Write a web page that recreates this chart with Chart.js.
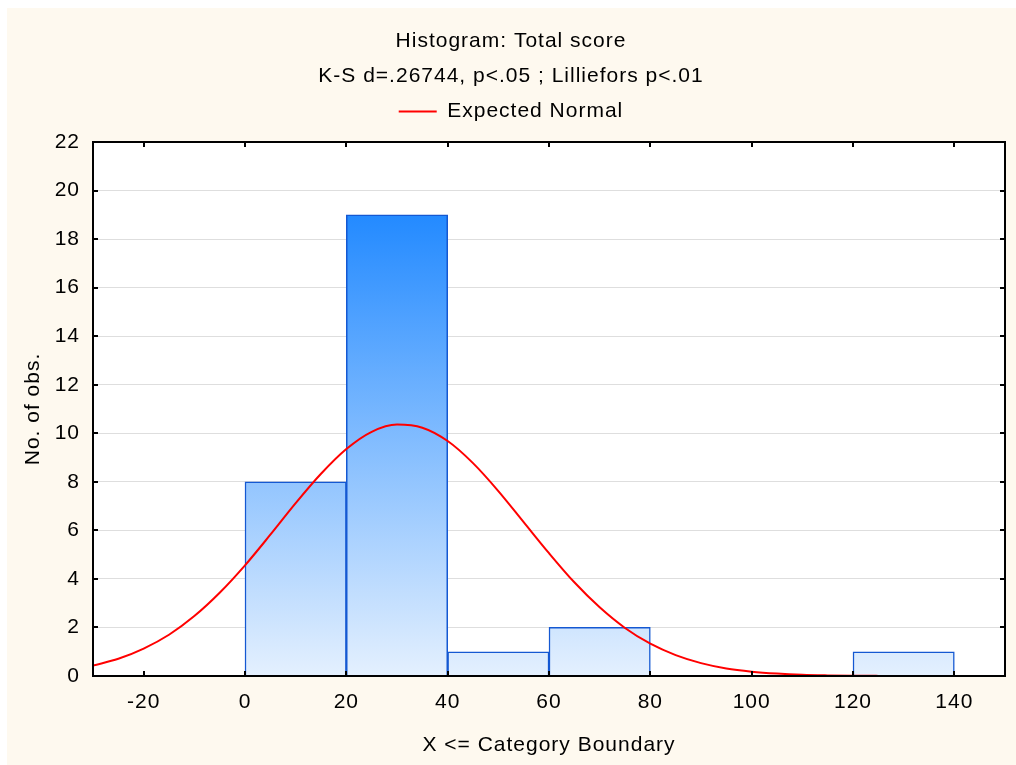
<!DOCTYPE html>
<html>
<head>
<meta charset="utf-8">
<title>Histogram: Total score</title>
<script src="https://cdn.jsdelivr.net/npm/chart.js@4.4.1/dist/chart.umd.min.js"></script>
<style>
  html, body { margin: 0; padding: 0; background: #fff; }
  #wrap { width: 1016px; height: 765px; }
</style>
</head>
<body>
<div id="wrap"><canvas id="hist" width="1016" height="765"></canvas></div>
<script>
// histogram bins (lower / upper boundary) and counts
const binLower = [-20, 0, 20, 40, 60, 80, 100, 120];
const binUpper = [0, 20, 40, 60, 80, 100, 120, 140];
const counts = [0, 8, 19, 1, 2, 0, 0, 1];

// expected normal curve, every 5 units
const curveX = [-30, -25, -20, -15, -10, -5, 0, 5, 10, 15, 20, 25, 30, 35, 40, 45, 50, 55, 60,
  65, 70, 75, 80, 85, 90, 95, 100, 105, 110, 115, 120, 125, 130, 135, 140, 145, 150];
const curveY = [0.43, 0.71, 1.13, 1.70, 2.47, 3.43, 4.56, 5.82, 7.12, 8.33, 9.35, 10.06, 10.36, 10.23, 9.68, 8.77, 7.62, 6.34, 5.06,
  3.86, 2.83, 1.98, 1.33, 0.86, 0.53, 0.31, 0.18, 0.10, 0.05, 0.025, 0.01, 0.005, 0.002, 0.001, 0, 0, 0];

const xTicks = [-20, 0, 20, 40, 60, 80, 100, 120, 140];
const xMin = -30, xMax = 150;
const yMin = 0, yMax = 22, yStep = 2;

const FONT = "'Liberation Sans', Arial, sans-serif";

const barData = counts.map((c, i) => ({ x: (binLower[i] + binUpper[i]) / 2, y: c }));
const curveData = curveX.map((x, i) => ({ x: x, y: curveY[i] }));

// the original text is set a little wider than plain Arial
const spacing = {
  id: 'spacing',
  beforeUpdate(chart) { chart.ctx.letterSpacing = '1px'; },
  beforeLayout(chart) { chart.ctx.letterSpacing = '1px'; }
};

// background, white plot area, black frame with inward ticks
const frame = {
  id: 'frame',
  beforeDraw(chart) {
    const c = chart.ctx, a = chart.chartArea;
    c.save();
    c.fillStyle = '#ffffff';
    c.fillRect(0, 0, chart.width, chart.height);
    c.fillStyle = '#fef9ef';
    c.fillRect(7, 8, chart.width - 7, chart.height - 8);
    c.fillStyle = '#ffffff';
    c.fillRect(a.left, a.top, a.right - a.left, a.bottom - a.top);
    c.restore();
    c.letterSpacing = '1px';
  },
  afterDatasetsDraw(chart) {
    const c = chart.ctx, a = chart.chartArea;
    const sx = chart.scales.x, sy = chart.scales.y;
    c.save();
    c.strokeStyle = '#000';
    c.lineWidth = 2;
    c.beginPath();
    xTicks.forEach(v => {
      const px = Math.round(sx.getPixelForValue(v));
      c.moveTo(px, a.bottom); c.lineTo(px, a.bottom - 5);
      c.moveTo(px, a.top); c.lineTo(px, a.top + 5);
    });
    for (let v = yMin; v <= yMax; v += yStep) {
      const py = Math.round(sy.getPixelForValue(v));
      c.moveTo(a.left, py); c.lineTo(a.left + 5, py);
      c.moveTo(a.right, py); c.lineTo(a.right - 5, py);
    }
    c.stroke();
    c.strokeRect(a.left, a.top, a.right - a.left, a.bottom - a.top);
    c.restore();
  }
};

const barFill = (ctx) => {
  const chart = ctx.chart;
  if (!chart.chartArea) return '#8fc4ff';
  const sy = chart.scales.y;
  const g = chart.ctx.createLinearGradient(0, sy.getPixelForValue(0), 0, sy.getPixelForValue(Math.max(...counts)));
  g.addColorStop(0, '#e4f0fe');
  g.addColorStop(1, '#238aff');
  return g;
};

new Chart(document.getElementById('hist'), {
  type: 'bar',
  data: {
    datasets: [
      {
        type: 'line',
        label: 'Expected Normal',
        data: curveData,
        borderColor: '#ff0000',
        backgroundColor: '#ff0000',
        borderWidth: 2,
        pointRadius: 0,
        cubicInterpolationMode: 'monotone',
        order: 0
      },
      {
        type: 'bar',
        label: 'Total score',
        data: barData,
        backgroundColor: barFill,
        borderColor: '#1458d2',
        borderWidth: 1.5,
        barPercentage: 1,
        categoryPercentage: 1,
        order: 1
      }
    ]
  },
  options: {
    responsive: false,
    animation: false,
    layout: { padding: { left: 17, right: 11, top: 8, bottom: 3 } },
    plugins: {
      title: {
        display: true,
        text: ['Histogram: Total score', 'K-S d=.26744, p<.05 ; Lilliefors p<.01'],
        color: '#000',
        font: { family: FONT, size: 21, weight: 'normal', lineHeight: '35px' },
        padding: { top: 16, bottom: 0 }
      },
      legend: {
        display: true,
        position: 'top',
        labels: {
          filter: item => item.text === 'Expected Normal',
          usePointStyle: true,
          pointStyle: 'line',
          pointStyleWidth: 38,
          color: '#000',
          font: { family: FONT, size: 21 },
          padding: 7
        }
      },
      tooltip: { enabled: false }
    },
    scales: {
      x: {
        type: 'linear',
        position: 'bottom',
        offset: false,
        min: xMin,
        max: xMax,
        afterBuildTicks: s => { s.ticks = xTicks.map(v => ({ value: v })); },
        afterFit: s => { s.height = 86; },
        grid: { display: false, offset: false },
        border: { display: false },
        ticks: { color: '#000', font: { family: FONT, size: 21 }, padding: 6, maxRotation: 0 },
        title: { display: true, text: 'X <= Category Boundary', color: '#000', font: { family: FONT, size: 21 } }
      },
      xTop: {
        type: 'linear',
        position: 'top',
        offset: false,
        min: xMin,
        max: xMax,
        afterFit: s => { s.height = 10; },
        grid: { display: false },
        border: { display: false },
        ticks: { display: false }
      },
      y: {
        min: yMin,
        max: yMax,
        afterFit: s => { s.width = 76; },
        grid: { color: '#dedede', lineWidth: 1, drawTicks: false },
        border: { display: false },
        ticks: { stepSize: yStep, color: '#000', font: { family: FONT, size: 21 }, padding: 13 },
        title: { display: true, text: 'No. of obs.', color: '#000', font: { family: FONT, size: 21 } }
      }
    }
  },
  plugins: [spacing, frame]
});
</script>
</body>
</html>
